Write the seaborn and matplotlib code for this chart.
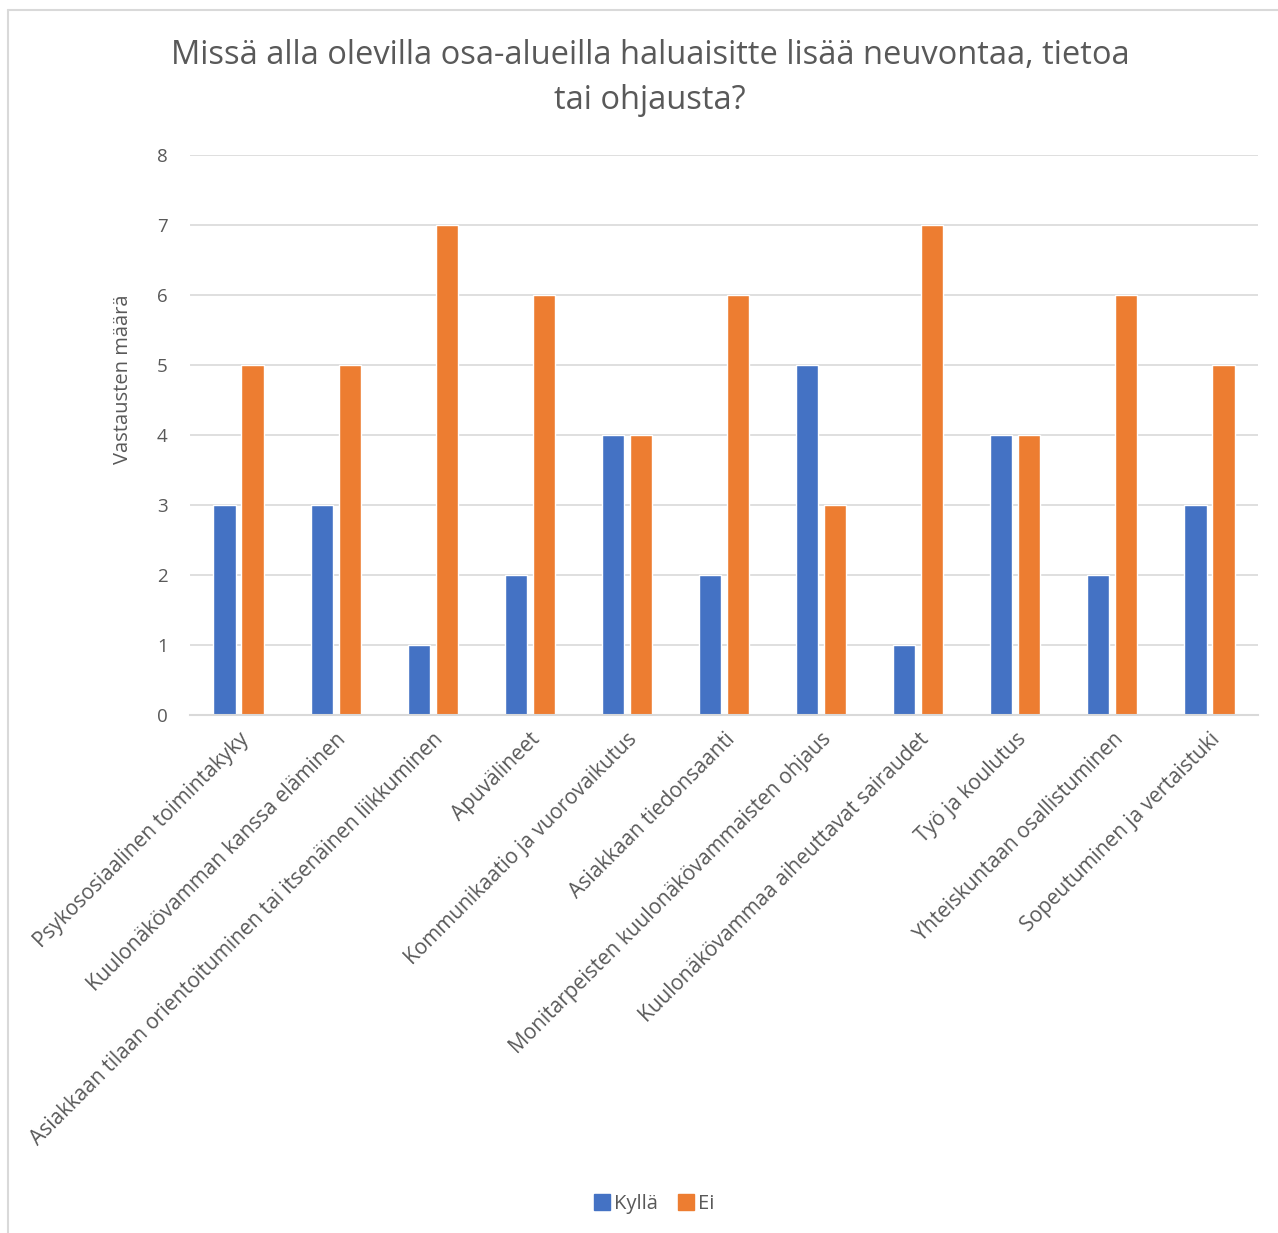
import matplotlib
matplotlib.use("Agg")
import matplotlib.pyplot as plt
import seaborn as sns
import pandas as pd
from matplotlib.lines import Line2D

categories = [
    "Psykososiaalinen toimintakyky",
    "Kuulonäkövamman kanssa eläminen",
    "Asiakkaan tilaan orientoituminen tai itsenäinen liikkuminen",
    "Apuvälineet",
    "Kommunikaatio ja vuorovaikutus",
    "Asiakkaan tiedonsaanti",
    "Monitarpeisten kuulonäkövammaisten ohjaus",
    "Kuulonäkövammaa aiheuttavat sairaudet",
    "Työ ja koulutus",
    "Yhteiskuntaan osallistuminen",
    "Sopeutuminen ja vertaistuki",
]
kylla = [3, 3, 1, 2, 4, 2, 5, 1, 4, 2, 3]
ei = [5, 5, 7, 6, 4, 6, 3, 7, 4, 6, 5]
series_names = ["Kyllä", "Ei"]
title = "Missä alla olevilla osa-alueilla haluaisitte lisää neuvontaa, tietoa\ntai ohjausta?"
ylabel = "Vastausten määrä"

df = pd.DataFrame({
    "cat": categories * 2,
    "val": kylla + ei,
    "serie": [series_names[0]] * len(categories) + [series_names[1]] * len(categories),
})

sns.set_theme(style="white")
plt.rcParams["font.family"] = ["Open Sans", "DejaVu Sans"]

fig = plt.figure(figsize=(12.78, 12.33), dpi=100)
ax = fig.add_axes([190 / 1278, 1 - 715 / 1233, (1258 - 190) / 1278, (715 - 155) / 1233])

sns.barplot(data=df, x="cat", y="val", hue="serie", order=categories,
            hue_order=series_names, palette=["#4472C4", "#ED7D31"],
            width=0.577, gap=0.21, ax=ax, legend=False, saturation=1)

ax.set_ylim(0, 8)
ax.set_xlim(-0.5, len(categories) - 0.5)
ax.set_yticks(range(0, 9))
ax.yaxis.grid(True, color="#d9d9d9", linewidth=1.2)
ax.set_axisbelow(True)
for s in ["top", "right", "left"]:
    ax.spines[s].set_visible(False)
ax.spines["bottom"].set_color("#d9d9d9")
ax.spines["bottom"].set_linewidth(1.5)
ax.tick_params(axis="y", length=0, labelsize=13.5, labelcolor="#595959", pad=16)
ax.tick_params(axis="x", length=0, labelsize=15, labelcolor="#595959", pad=10)
ax.set_xticks(range(len(categories)))
ax.set_xticklabels(categories, rotation=45, ha="right", rotation_mode="anchor")
ax.set_xlabel("")
ax.set_ylabel(ylabel, fontsize=14.5, color="#595959", labelpad=15)
ax.yaxis.set_label_coords(-0.053, 0.60)

fig.text(650 / 1278, 1 - 78 / 1233, title, ha="center", va="center",
         fontsize=23.5, color="#595959", linespacing=1.45)

handles = [Line2D([], [], marker="s", linestyle="", markersize=12, color=c)
           for c in ["#4472C4", "#ED7D31"]]
fig.legend(handles, series_names, loc="center", bbox_to_anchor=(653 / 1278, 1 - 1204 / 1233),
           ncol=2, frameon=False, fontsize=14.5, labelcolor="#595959",
           handletextpad=0.1, columnspacing=0.9, handlelength=1.0)

# outer chart border (left and top)
fig.add_artist(Line2D([8 / 1278, 8 / 1278], [0, 1 - 10 / 1233], transform=fig.transFigure,
                      color="#d9d9d9", linewidth=1.5))
fig.add_artist(Line2D([8 / 1278, 1], [1 - 10 / 1233, 1 - 10 / 1233], transform=fig.transFigure,
                      color="#d9d9d9", linewidth=1.5))

fig.savefig("out.png", dpi=100, facecolor="white")
